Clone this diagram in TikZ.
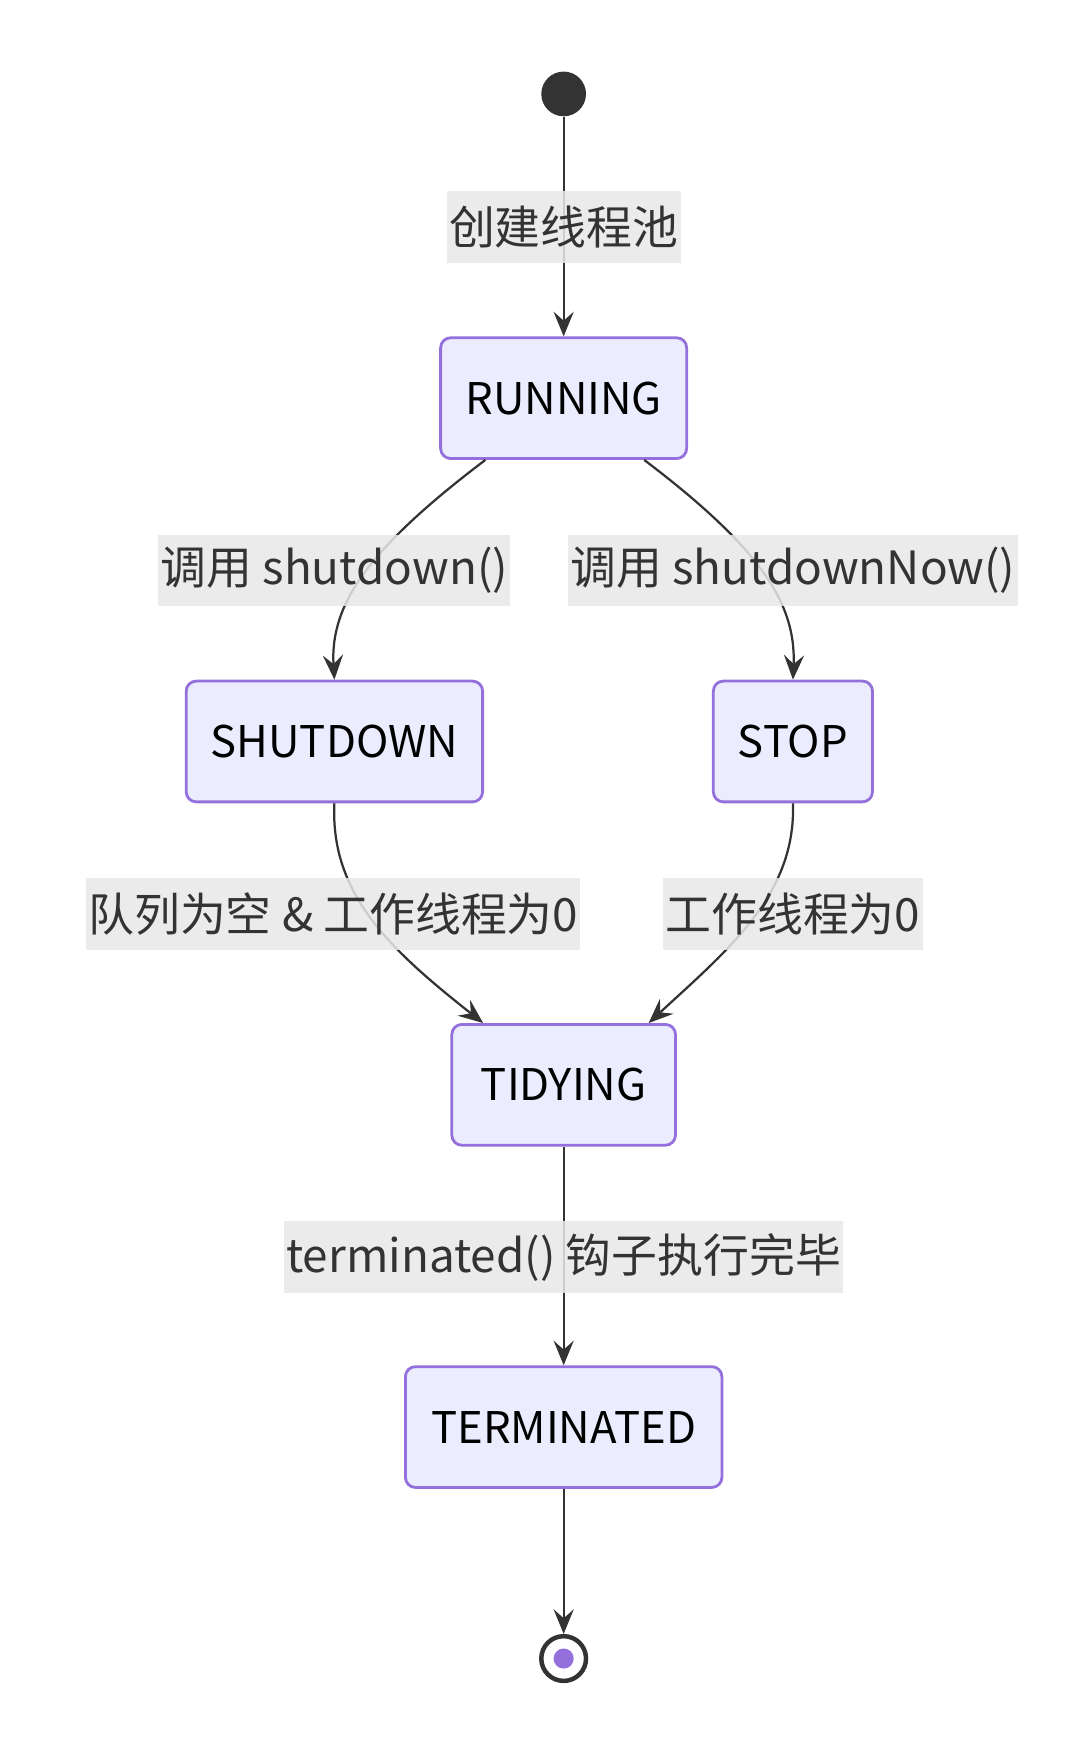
\documentclass[tikz,border=0pt]{standalone}
\usepackage{fontspec}
\setmainfont{Noto Sans CJK SC}
\usetikzlibrary{arrows.meta}
\definecolor{stateline}{HTML}{9370DB}
\definecolor{statefill}{HTML}{ECECFF}
\tikzset{
  state/.style={draw=stateline, fill=statefill, line width=2.5pt, rounded corners=9pt,
    minimum height=108pt, inner xsep=22pt, font=\fontsize{39}{44}\selectfont},
  lab/.style={fill=gray!18, fill opacity=0.85, text opacity=1, inner sep=2pt,
    minimum height=64pt, text=black!80, font=\fontsize{41}{46}\selectfont},
  edge/.style={draw=black!80, line width=2pt, -{Stealth[length=22pt,width=18pt,inset=8pt]}}
}
\begin{document}
\begin{tikzpicture}[x=1pt,y=-1pt]
  \useasboundingbox (0,0) rectangle (970,1563);
  % states
  \node[circle, fill=black!80, minimum size=40pt, inner sep=0] (start) at (504,84) {};
  \node[state, minimum width=220pt] (run) at (504,356) {RUNNING};
  \node[state, minimum width=265pt] (shut) at (299,663) {SHUTDOWN};
  \node[state, minimum width=140pt] (stop) at (709,663) {STOP};
  \node[state, minimum width=200pt] (tidy) at (504,970) {TIDYING};
  \node[state, minimum width=283pt] (term) at (504,1276) {TERMINATED};
  \node[circle, draw=black!80, line width=4pt, fill=white, minimum size=40pt, inner sep=0] (end) at (504,1483) {};
  \fill[stateline] (end) circle (9pt);
  % transitions
  \draw[edge] (start) -- (run);
  \draw[edge] ([xshift=-70pt]run.south) .. controls (330,490) and (295,540) .. (shut.north);
  \draw[edge] ([xshift=72pt]run.south) .. controls (680,490) and (712,540) .. (stop.north);
  \draw[edge] (shut.south) .. controls (295,800) and (350,850) .. ([xshift=-72pt]tidy.north);
  \draw[edge] (stop.south) .. controls (712,800) and (650,850) .. ([xshift=76pt]tidy.north);
  \draw[edge] (tidy) -- (term);
  \draw[edge] (term) -- (end);
  % labels
  \node[lab] (l1) at (504,203) {创建线程池};
  \node[lab] (l2) at (299,510) {调用 shutdown()};
  \node[lab] (l3) at (709,510) {调用 shutdownNow()};
  \node[lab] (l4) at (298,817) {队列为空 \& 工作线程为0};
  \node[lab] (l5) at (709,817) {工作线程为0};
  \node[lab] (l6) at (504,1124) {terminated() 钩子执行完毕};
\end{tikzpicture}
\end{document}
